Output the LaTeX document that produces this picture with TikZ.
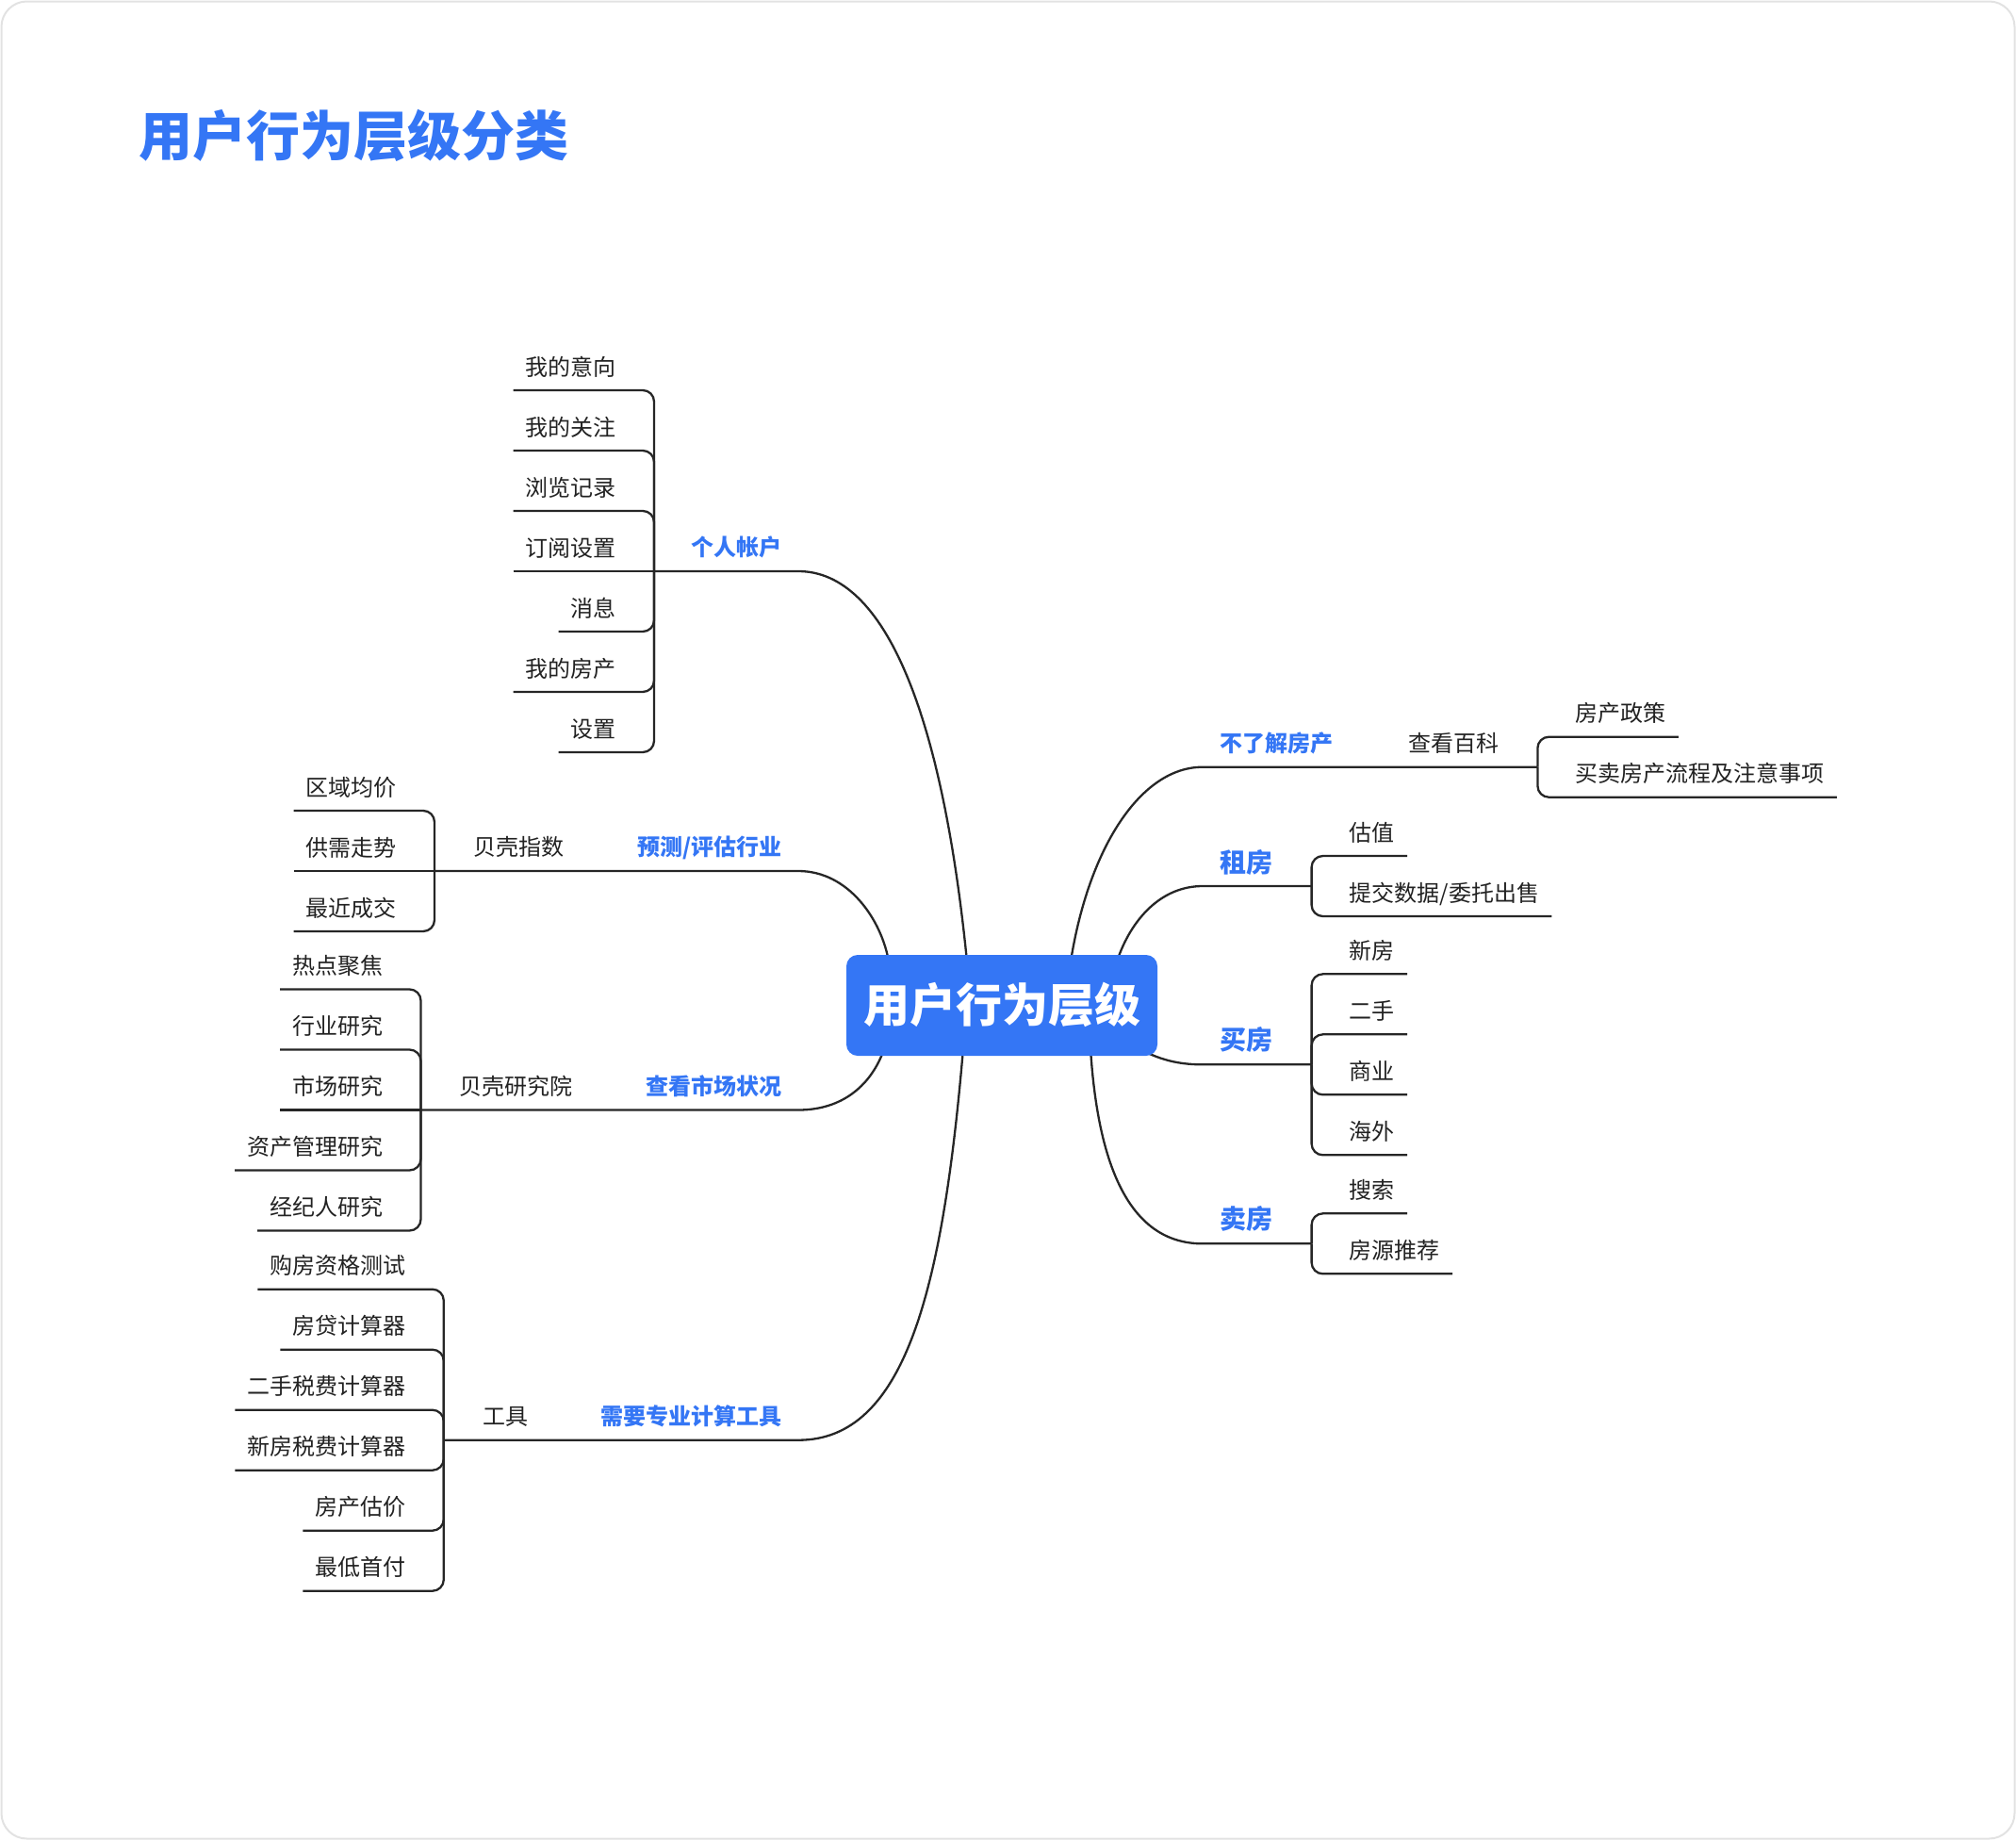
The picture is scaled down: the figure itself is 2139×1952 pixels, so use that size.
\documentclass[tikz,border=0pt]{standalone}
\usepackage{fontspec}
\newfontfamily\cjk{Noto Sans CJK SC}
\usetikzlibrary{backgrounds}
\definecolor{brand}{RGB}{52,118,245}
\definecolor{inkc}{RGB}{34,34,34}
\definecolor{linecol}{RGB}{38,38,38}
\definecolor{framecol}{RGB}{226,226,226}
\begin{document}
\begin{tikzpicture}[x=1pt,y=-1pt,
  leafL/.style={anchor=south east, inner xsep=13pt, inner ysep=0pt, text height=20pt, text depth=15.6pt,
    font=\cjk\fontsize{24}{28}\selectfont, text=inkc},
  leafR/.style={leafL, anchor=south west},
  labL/.style={anchor=base east, inner sep=0pt, font=\cjk\bfseries\fontsize{24}{28}\selectfont, text=brand},
  labR/.style={labL, anchor=base west},
  labBig/.style={labR, font=\cjk\bfseries\fontsize{28}{32}\selectfont},
  subL/.style={anchor=base west, inner sep=0pt, font=\cjk\fontsize{24}{28}\selectfont, text=inkc},
  subR/.style={subL, anchor=base east},
  conn/.style={draw=linecol, line width=2.3pt},
  leafconn/.style={conn, rounded corners=12pt},
  rootbox/.style={fill=brand, rounded corners=12pt, minimum width=330pt, minimum height=107pt, inner sep=0pt,
    text height=36.3pt, text depth=0pt, text=white, font=\cjk\bfseries\fontsize{49}{56}\selectfont}]
\useasboundingbox (0,0) rectangle (2139,1952);
\draw[framecol, line width=2pt, rounded corners=27pt] (1.5,1.5) rectangle (2137.5,1950.5);

% title
\node[anchor=base west, inner sep=0pt, text=brand, font=\cjk\bfseries\fontsize{57}{64}\selectfont] (title) at (147,165) {用户行为层级分类};

% root
\node[rootbox] (root) at (1063,1066.5) {用户行为层级};
\coordinate (rA) at (1026,1020);
\coordinate (rB) at (943,1020);
\coordinate (rC) at (938,1113);
\coordinate (rD) at (1022,1112);
\coordinate (rE) at (1136,1020);
\coordinate (rF) at (1185,1020);
\coordinate (rG) at (1200,1108);
\coordinate (rH) at (1157,1112);

% ---------- group A: 个人帐户
\coordinate (jA) at (694,606);
\coordinate (eA) at (847,606);
\node[leafL] (a1) at (667,414) {我的意向};
\node[leafL] (a2) at (667,478) {我的关注};
\node[leafL] (a3) at (667,542) {浏览记录};
\node[leafL] (a4) at (667,606) {订阅设置};
\node[leafL] (a5) at (667,670) {消息};
\node[leafL] (a6) at (667,734) {我的房产};
\node[leafL] (a7) at (667,798) {设置};
\draw[leafconn] (a1.south west) -| (jA);
\draw[leafconn] (a2.south west) -| (jA);
\draw[leafconn] (a3.south west) -| (jA);
\draw[conn] (a4.south west) -- (jA);
\draw[leafconn] (a5.south west) -| (jA);
\draw[leafconn] (a6.south west) -| (jA);
\draw[leafconn] (a7.south west) -| (jA);
\node[labL] (A) at (830,589.9) {个人帐户};

% ---------- group B: 预测/评估行业
\coordinate (jB) at (461,924);
\coordinate (eB) at (847,924);
\node[leafL] (b1) at (434,860) {区域均价};
\node[leafL] (b2) at (434,924) {供需走势};
\node[leafL] (b3) at (434,988) {最近成交};
\draw[leafconn] (b1.south west) -| (jB);
\draw[conn] (b2.south west) -- (jB);
\draw[leafconn] (b3.south west) -| (jB);
\node[subL] (Bs) at (502,907.9) {贝壳指数};
\node[labL] (B) at (830,907.9) {预测/评估行业};

% ---------- group C: 查看市场状况
\coordinate (jC) at (446.5,1177.5);
\coordinate (eC) at (847,1177.5);
\node[leafL] (c1) at (419.5,1049.5) {热点聚焦};
\node[leafL] (c2) at (419.5,1113.5) {行业研究};
\node[leafL] (c3) at (419.5,1177.5) {市场研究};
\node[leafL] (c4) at (419.5,1241.5) {资产管理研究};
\node[leafL] (c5) at (419.5,1305.5) {经纪人研究};
\draw[leafconn] (c1.south west) -| (jC);
\draw[leafconn] (c2.south west) -| (jC);
\draw[conn] (c3.south west) -- (jC);
\draw[leafconn] (c4.south west) -| (jC);
\draw[leafconn] (c5.south west) -| (jC);
\node[subL] (Cs) at (487.5,1161.4) {贝壳研究院};
\node[labL] (C) at (830,1161.4) {查看市场状况};

% ---------- group D: 需要专业计算工具
\coordinate (jD) at (470.8,1527.7);
\coordinate (eD) at (847,1527.7);
\node[leafL] (d1) at (443.8,1367.7) {购房资格测试};
\node[leafL] (d2) at (443.8,1431.7) {房贷计算器};
\node[leafL] (d3) at (443.8,1495.7) {二手税费计算器};
\node[leafL] (d4) at (443.8,1559.7) {新房税费计算器};
\node[leafL] (d5) at (443.8,1623.7) {房产估价};
\node[leafL] (d6) at (443.8,1687.7) {最低首付};
\foreach \n in {d1,d2,d3,d4,d5,d6} \draw[leafconn] (\n.south west) -| (jD);
\node[subL] (Ds) at (511.8,1511.6) {工具};
\node[labL] (D) at (830,1511.6) {需要专业计算工具};

% ---------- group E: 不了解房产
\coordinate (jE) at (1631.4,813.7);
\coordinate (eE) at (1276,813.7);
\node[leafR] (e1) at (1658.4,781.7) {房产政策};
\node[leafR] (e2) at (1658.4,845.7) {买卖房产流程及注意事项};
\draw[leafconn] (e1.south east) -| (jE);
\draw[leafconn] (e2.south east) -| (jE);
\node[subR] (Es) at (1590.4,797.6) {查看百科};
\node[labR] (E) at (1294,797.6) {不了解房产};

% ---------- group F: 租房
\coordinate (jF) at (1391.6,940);
\coordinate (eF) at (1276,940);
\node[leafR] (f1) at (1418.6,908) {估值};
\node[leafR] (f2) at (1418.6,972) {提交数据/委托出售};
\draw[leafconn] (f1.south east) -| (jF);
\draw[leafconn] (f2.south east) -| (jF);
\node[labBig] (F) at (1294,925.4) {租房};

% ---------- group G: 买房
\coordinate (jG) at (1391.6,1129.3);
\coordinate (eG) at (1276,1129.3);
\node[leafR] (g1) at (1418.6,1033.3) {新房};
\node[leafR] (g2) at (1418.6,1097.3) {二手};
\node[leafR] (g3) at (1418.6,1161.3) {商业};
\node[leafR] (g4) at (1418.6,1225.3) {海外};
\foreach \n in {g1,g2,g3,g4} \draw[leafconn] (\n.south east) -| (jG);
\node[labBig] (G) at (1294,1113.4) {买房};

% ---------- group H: 卖房
\coordinate (jH) at (1391.6,1319.3);
\coordinate (eH) at (1276,1319.3);
\node[leafR] (h1) at (1418.6,1287.3) {搜索};
\node[leafR] (h2) at (1418.6,1351.3) {房源推荐};
\draw[leafconn] (h1.south east) -| (jH);
\draw[leafconn] (h2.south east) -| (jH);
\node[labBig] (H) at (1294,1303.4) {卖房};

% ---------- main connectors (behind root)
\begin{pgfonlayer}{background}
\draw[conn] (jA) -- (eA) .. controls (940,606) and (1000,760) .. (rA);
\draw[conn] (jB) -- (eB) .. controls (900,924) and (935,975) .. (rB);
\draw[conn] (jC) -- (eC) .. controls (895,1177.5) and (925,1150) .. (rC);
\draw[conn] (jD) -- (eD) .. controls (960,1527.7) and (1000,1370) .. (rD);
\draw[conn] (jE) -- (eE) .. controls (1210,813.7) and (1155,900) .. (rE);
\draw[conn] (jF) -- (eF) .. controls (1232,940) and (1200,975) .. (rF);
\draw[conn] (jG) -- (eG) .. controls (1245,1129.3) and (1225,1122) .. (rG);
\draw[conn] (jH) -- (eH) .. controls (1200,1319.3) and (1165,1240) .. (rH);
\end{pgfonlayer}
\end{tikzpicture}
\end{document}
